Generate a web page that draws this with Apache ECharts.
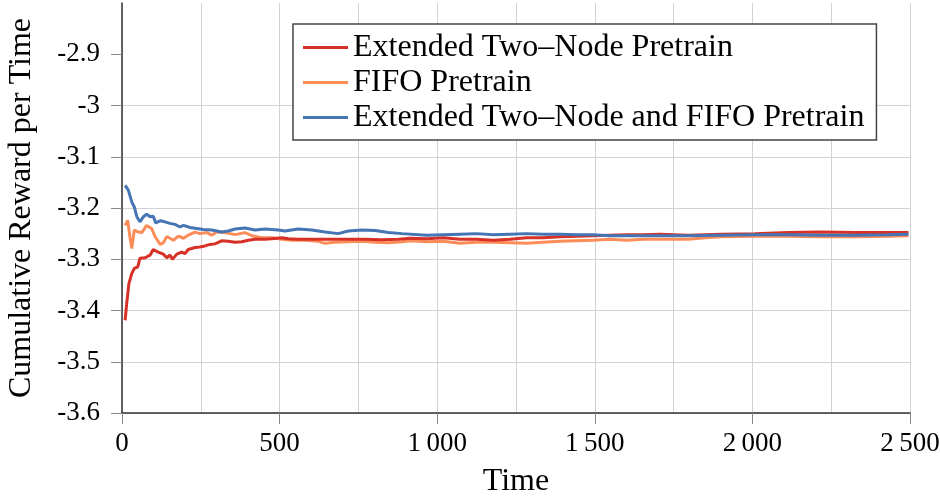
<!DOCTYPE html>
<html>
<head>
<meta charset="utf-8">
<script src="https://cdn.jsdelivr.net/npm/echarts@6/dist/echarts.min.js"></script>
<style>
    html, body { margin: 0; padding: 0; background: #ffffff; }
    #main { width: 940px; height: 497px; }
</style>
</head>
<body>
<div id="main"></div>
<script>
    // data
    var seriesNames = ['Extended Two\u2013Node Pretrain', 'FIFO Pretrain', 'Extended Two\u2013Node and FIFO Pretrain'];

    var redTime = [10, 15, 22, 31, 39, 50, 57, 73, 89, 99, 115, 131, 142, 152, 160, 174, 189, 200, 210, 232, 247, 263, 279, 295, 316, 337, 359, 380, 401, 422, 454, 475, 507, 528, 559, 612, 665, 718, 771, 824, 877, 914, 967, 1019, 1072, 1125, 1178, 1231, 1284, 1336, 1390, 1443, 1495, 1548, 1601, 1654, 1707, 1796, 1903, 2008, 2114, 2220, 2326, 2431, 2495];
    var redValue = [-3.419, -3.386, -3.347, -3.328, -3.318, -3.315, -3.298, -3.297, -3.292, -3.281, -3.286, -3.290, -3.297, -3.292, -3.300, -3.290, -3.286, -3.289, -3.281, -3.277, -3.276, -3.274, -3.271, -3.270, -3.264, -3.265, -3.267, -3.266, -3.263, -3.261, -3.261, -3.260, -3.258, -3.260, -3.261, -3.261, -3.261, -3.261, -3.261, -3.262, -3.261, -3.259, -3.260, -3.258, -3.261, -3.261, -3.263, -3.261, -3.258, -3.258, -3.256, -3.255, -3.254, -3.253, -3.252, -3.252, -3.251, -3.253, -3.251, -3.250, -3.248, -3.247, -3.248, -3.248, -3.248];

    var orangeTime = [10, 18, 25, 31, 39, 52, 63, 78, 83, 94, 105, 121, 131, 142, 152, 163, 179, 195, 210, 232, 247, 269, 285, 300, 327, 359, 390, 412, 443, 475, 507, 538, 581, 623, 644, 676, 718, 761, 803, 845, 888, 914, 967, 1019, 1072, 1125, 1178, 1231, 1284, 1336, 1390, 1443, 1495, 1548, 1601, 1654, 1707, 1796, 1850, 1903, 2008, 2114, 2220, 2326, 2431, 2495];
    var orangeValue = [-3.234, -3.224, -3.256, -3.279, -3.243, -3.247, -3.248, -3.234, -3.232, -3.240, -3.256, -3.271, -3.268, -3.256, -3.259, -3.263, -3.255, -3.259, -3.253, -3.247, -3.250, -3.248, -3.253, -3.247, -3.248, -3.252, -3.248, -3.254, -3.258, -3.258, -3.261, -3.263, -3.263, -3.265, -3.269, -3.267, -3.266, -3.265, -3.267, -3.268, -3.266, -3.264, -3.266, -3.265, -3.269, -3.267, -3.267, -3.268, -3.269, -3.267, -3.265, -3.264, -3.263, -3.261, -3.263, -3.261, -3.261, -3.261, -3.258, -3.256, -3.255, -3.255, -3.256, -3.256, -3.255, -3.254];

    var blueTime = [10, 20, 31, 39, 47, 57, 68, 78, 89, 99, 107, 121, 136, 152, 168, 184, 195, 216, 237, 258, 285, 316, 337, 359, 390, 422, 454, 496, 517, 559, 602, 644, 686, 718, 761, 803, 845, 888, 967, 1019, 1072, 1125, 1178, 1231, 1284, 1336, 1390, 1443, 1495, 1548, 1601, 1654, 1707, 1796, 1903, 2008, 2114, 2220, 2326, 2431, 2495];
    var blueValue = [-3.156, -3.165, -3.188, -3.198, -3.217, -3.227, -3.217, -3.212, -3.217, -3.216, -3.229, -3.225, -3.227, -3.230, -3.232, -3.237, -3.234, -3.238, -3.240, -3.242, -3.243, -3.247, -3.245, -3.241, -3.239, -3.243, -3.241, -3.243, -3.245, -3.241, -3.243, -3.247, -3.250, -3.245, -3.243, -3.244, -3.248, -3.250, -3.253, -3.252, -3.251, -3.250, -3.252, -3.251, -3.250, -3.251, -3.251, -3.252, -3.252, -3.254, -3.254, -3.254, -3.254, -3.254, -3.253, -3.252, -3.252, -3.253, -3.253, -3.252, -3.251];

    var xTicks = [0, 500, 1000, 1500, 2000, 2500];
    var yTicks = [-3.6, -3.5, -3.4, -3.3, -3.2, -3.1, -3, -2.9];

    function pairs(t, v) {
        return t.map(function (x, i) { return [x, v[i]]; });
    }

    var font = 'Liberation Serif';
    var myChart = echarts.init(document.getElementById('main'), null, { renderer: 'canvas' });

    var option = {
        animation: false,
        backgroundColor: '#ffffff',
        textStyle: { fontFamily: font, color: '#000' },
        grid: { left: 122, right: 30, top: 3, bottom: 84, containLabel: false, outerBoundsMode: 'none' },
        legend: {
            orient: 'vertical',
            left: 293,
            top: 24,
            padding: [6, 12, 5, 10],
            itemGap: 0,
            itemWidth: 45,
            itemHeight: 3,
            icon: 'rect',
            backgroundColor: '#fff',
            borderColor: '#444',
            borderWidth: 1.5,
            borderRadius: 0,
            textStyle: { fontFamily: font, fontSize: 32, lineHeight: 35, color: '#000' },
            data: seriesNames
        },
        xAxis: {
            type: 'value',
            min: 0,
            max: 2500,
            interval: 500,
            name: 'Time',
            nameLocation: 'middle',
            nameGap: 53,
            nameTextStyle: { fontFamily: font, fontSize: 32, color: '#000' },
            axisLine: { show: true, onZero: false, lineStyle: { color: '#333', width: 1.5 } },
            axisTick: { show: true, length: 11, lineStyle: { color: '#888', width: 1 }, customValues: xTicks },
            axisLabel: {
                margin: 17,
                fontFamily: font,
                fontSize: 27,
                color: '#000',
                customValues: xTicks,
                formatter: function (v) {
                    return v >= 1000 ? Math.floor(v / 1000) + '\u2009' + String(v % 1000).padStart(3, '0') : String(v);
                }
            },
            splitLine: { show: true, lineStyle: { color: '#d2d2d2', width: 1 } },
            minorTick: { show: false, splitNumber: 2 },
            minorSplitLine: { show: true, lineStyle: { color: '#d2d2d2', width: 1 } }
        },
        yAxis: {
            type: 'value',
            min: -3.6,
            max: -2.8,
            interval: 0.1,
            name: 'Cumulative Reward per Time',
            nameLocation: 'middle',
            nameGap: 84,
            nameTextStyle: { fontFamily: font, fontSize: 32, color: '#000' },
            axisLine: { show: true, onZero: false, lineStyle: { color: '#333', width: 1.5 } },
            axisTick: { show: true, length: 11, lineStyle: { color: '#888', width: 1 }, customValues: yTicks },
            axisLabel: {
                margin: 22,
                fontFamily: font,
                fontSize: 27,
                color: '#000',
                customValues: yTicks
            },
            splitLine: { show: true, showMaxLine: false, lineStyle: { color: '#d2d2d2', width: 1 } }
        },
        series: [
            {
                name: seriesNames[0],
                type: 'line',
                showSymbol: false,
                symbol: 'none',
                data: pairs(redTime, redValue),
                lineStyle: { color: '#d73027', width: 3 },
                itemStyle: { color: '#d73027' },
                z: 3
            },
            {
                name: seriesNames[1],
                type: 'line',
                showSymbol: false,
                symbol: 'none',
                data: pairs(orangeTime, orangeValue),
                lineStyle: { color: '#fc8d59', width: 3 },
                itemStyle: { color: '#fc8d59' },
                z: 2
            },
            {
                name: seriesNames[2],
                type: 'line',
                showSymbol: false,
                symbol: 'none',
                data: pairs(blueTime, blueValue),
                lineStyle: { color: '#4575b4', width: 3 },
                itemStyle: { color: '#4575b4' },
                z: 4
            }
        ]
    };

    myChart.setOption(option);
</script>
</body>
</html>
